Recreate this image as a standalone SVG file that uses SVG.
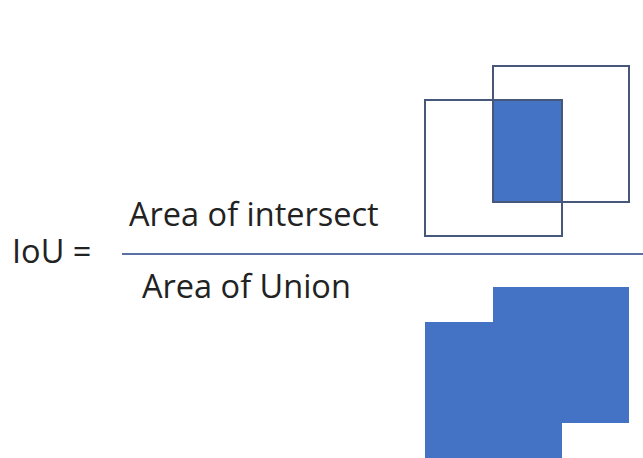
<svg xmlns="http://www.w3.org/2000/svg" width="643" height="458" viewBox="0 0 643 458">
<style>
.t{font-family:"Open Sans","Liberation Sans",sans-serif;font-size:32.5px;fill:#222222}
.box{fill:none;stroke:#465779;stroke-width:2}
.fill{fill:#4472c4}
</style>
<rect width="643" height="458" fill="#ffffff"/>
<g id="formula">
<text class="t" x="12" y="263">IoU =</text>
<text class="t" x="129" y="226">Area of intersect</text>
<text class="t" x="142" y="298">Area of Union</text>
</g>
<g id="connectors">
<line x1="122" y1="254" x2="643" y2="254" stroke="#5b6ea6" stroke-width="2"/>
</g>
<g id="intersection">
<rect class="fill" x="493" y="100" width="69" height="102"/>
<rect class="box" x="493" y="66" width="136" height="136"/>
<rect class="box" x="425" y="100" width="137" height="136"/>
</g>
<g id="union">
<polygon class="fill" points="493,287 629,287 629,423 562,423 562,458 425,458 425,322 493,322"/>
</g>
</svg>
